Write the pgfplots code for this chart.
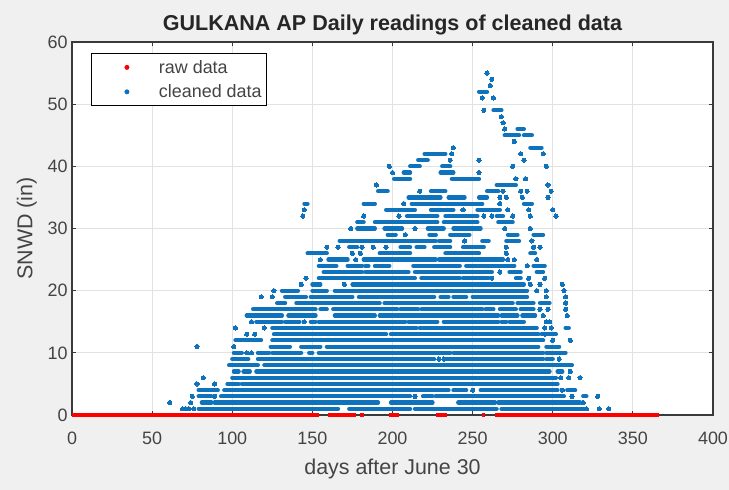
\documentclass[border=0pt]{standalone}
\usepackage{pgfplots}
\pgfplotsset{compat=1.18}
\usepackage{fontspec}
\setmainfont{Liberation Sans}
\definecolor{figbg}{HTML}{F0F0F0}
\definecolor{mblue}{HTML}{0F72BD}
\definecolor{frame}{HTML}{3A3A3A}
\definecolor{gridc}{HTML}{E2E2E2}
\definecolor{labc}{HTML}{444444}
\begin{document}
\begin{tikzpicture}[x=1bp,y=1bp]
\useasboundingbox (0,0) rectangle (729,490);
\fill[figbg] (0,0) rectangle (729,490);
\begin{axis}[
  at={(72bp,75bp)},anchor=south west,
  scale only axis,width=641bp,height=373bp,
  xmin=0,xmax=400,ymin=0,ymax=60,
  xtick={0,50,...,400},ytick={0,10,...,60},
  axis background/.style={fill=white},
  grid=major,
  major grid style={gridc,line width=0.9bp},
  axis line style={frame,line width=1.1bp},
  tick style={frame,line width=0.9bp},
  tick align=inside,major tick length=4bp,
  clip=false,
  unbounded coords=jump,
  /pgf/number format/assume math mode=true,
  tick label style={font=\fontsize{18}{20}\selectfont,text=labc},
  xticklabel style={yshift=-13bp},
  yticklabel style={xshift=-1bp},
  title={\bfseries GULKANA AP Daily readings of cleaned data},
  title style={font=\fontsize{21.6}{24}\selectfont,text=black!85,yshift=-3bp},
  xlabel={days after June 30},
  ylabel={SNWD (in)},
  label style={font=\fontsize{21.5}{24}\selectfont,text=labc},
  xlabel style={yshift=-8bp},
  ylabel style={yshift=4bp},
  legend cell align=left,
  legend style={at={(0.0304,0.97)},anchor=north west,draw=black,line width=0.9bp,fill=white,
    font=\fontsize{18}{20}\selectfont,text=labc,inner xsep=3bp,inner ysep=4.5bp,row sep=6bp},
]
\addlegendimage{legend image code/.code={\path[draw=none] (0,0) -- (62bp,0); \fill[red] (32bp,0) circle (2bp);}}
\addlegendentry{raw data}
\addlegendimage{legend image code/.code={\path[draw=none] (0,0) -- (62bp,0); \fill[mblue] (32bp,0) circle (2bp);}}
\addlegendentry{cleaned data}
% cleaned data: runs of consecutive daily readings, one row per depth
\addplot[forget plot,mblue,line width=4.2bp,line cap=round] coordinates {
(79,1)(166,1)(nan,0)(173,1)(211,1)(nan,0)(214,1)(265,1)(nan,0)(268,1)(320,1)(nan,0)
(81,2)(87,2)(nan,0)(89,2)(191,2)(nan,0)(199,2)(225,2)(nan,0)(241,2)(264,2)(nan,0)(266,2)(317,2)(nan,0)
(79,3)(87,3)(nan,0)(93,3)(211,3)(nan,0)(219,3)(225,3)(nan,0)(227,3)(307,3)(nan,0)(319,3)(321,3)(nan,0)
(79,4)(91,4)(nan,0)(95,4)(235,4)(nan,0)(238,4)(246,4)(nan,0)(255,4)(303,4)(nan,0)(309,4)(314,4)(nan,0)
(97,5)(104,5)(nan,0)(106,5)(303,5)(nan,0)
(100,6)(302,6)(nan,0)
(101,7)(104,7)(nan,0)(107,7)(111,7)(nan,0)(115,7)(298,7)(nan,0)(303,7)(306,7)(nan,0)
(98,8)(116,8)(nan,0)(120,8)(312,8)(nan,0)
(100,9)(110,9)(nan,0)(116,9)(226,9)(nan,0)(233,9)(294,9)(nan,0)(296,9)(300,9)(nan,0)
(101,10)(106,10)(nan,0)(116,10)(123,10)(nan,0)(125,10)(143,10)(nan,0)(148,10)(150,10)(nan,0)(154,10)(236,10)(nan,0)(238,10)(294,10)(nan,0)(296,10)(308,10)(nan,0)
(124,11)(136,11)(nan,0)(143,11)(155,11)(nan,0)(159,11)(291,11)(nan,0)(296,11)(304,11)(nan,0)
(102,12)(118,12)(nan,0)(125,12)(294,12)(nan,0)
(126,13)(196,13)(nan,0)(199,13)(291,13)(nan,0)(293,13)(302,13)(nan,0)
(125,14)(215,14)(nan,0)(217,14)(290,14)(nan,0)(308,14)(310,14)(nan,0)
(115,15)(131,15)(nan,0)(133,15)(142,15)(nan,0)(149,15)(152,15)(nan,0)(154,15)(208,15)(nan,0)(210,15)(228,15)(nan,0)(232,15)(266,15)(nan,0)(268,15)(271,15)(nan,0)(273,15)(282,15)(nan,0)
(109,16)(131,16)(nan,0)(135,16)(152,16)(nan,0)(164,16)(189,16)(nan,0)(192,16)(266,16)(nan,0)(268,16)(278,16)(nan,0)(281,16)(289,16)(nan,0)
(113,17)(152,17)(nan,0)(155,17)(159,17)(nan,0)(163,17)(203,17)(nan,0)(205,17)(216,17)(nan,0)(218,17)(256,17)(nan,0)(258,17)(263,17)(nan,0)(267,17)(277,17)(nan,0)(280,17)(288,17)(nan,0)
(128,18)(133,18)(nan,0)(140,18)(192,18)(nan,0)(195,18)(275,18)(nan,0)(278,18)(288,18)(nan,0)(292,18)(298,18)(nan,0)
(133,19)(146,19)(nan,0)(149,19)(175,19)(nan,0)(179,19)(226,19)(nan,0)(230,19)(235,19)(nan,0)(238,19)(246,19)(nan,0)(250,19)(284,19)(nan,0)
(131,20)(141,20)(nan,0)(150,20)(159,20)(nan,0)(164,20)(284,20)(nan,0)
(150,21)(155,21)(nan,0)(175,21)(282,21)(nan,0)
(154,22)(214,22)(nan,0)(218,22)(242,22)(nan,0)(244,22)(260,22)(nan,0)(277,22)(280,22)(nan,0)
(157,23)(181,23)(nan,0)(183,23)(210,23)(nan,0)(214,23)(262,23)(nan,0)(273,23)(280,23)(nan,0)(290,23)(294,23)(nan,0)
(154,24)(165,24)(nan,0)(172,24)(181,24)(nan,0)(183,24)(185,24)(nan,0)(189,24)(198,24)(nan,0)(213,24)(242,24)(nan,0)(246,24)(276,24)(nan,0)(288,24)(295,24)(nan,0)
(160,25)(172,25)(nan,0)(182,25)(227,25)(nan,0)(229,25)(269,25)(nan,0)
(147,26)(159,26)(nan,0)(192,26)(211,26)(nan,0)(233,26)(254,26)(nan,0)(286,26)(289,26)(nan,0)
(173,27)(178,27)(nan,0)(205,27)(211,27)(nan,0)(215,27)(220,27)(nan,0)(226,27)(236,27)(nan,0)(244,27)(257,27)(nan,0)
(167,28)(227,28)(nan,0)(229,28)(236,28)(nan,0)(256,28)(260,28)(nan,0)(271,28)(279,28)(nan,0)
(197,29)(202,29)(nan,0)(223,29)(227,29)(nan,0)(236,29)(248,29)(nan,0)(272,29)(278,29)(nan,0)(288,29)(294,29)(nan,0)
(178,30)(189,30)(nan,0)(195,30)(206,30)(nan,0)(222,30)(232,30)(nan,0)(238,30)(255,30)(nan,0)
(178,31)(182,31)(nan,0)(189,31)(228,31)(nan,0)(232,31)(253,31)(nan,0)(266,31)(275,31)(nan,0)
(209,32)(228,32)(nan,0)(233,32)(253,32)(nan,0)(265,32)(269,32)(nan,0)
(196,33)(214,33)(nan,0)(224,33)(238,33)(nan,0)(253,33)(267,33)(nan,0)
(145,34)(147,34)(nan,0)(182,34)(189,34)(nan,0)(212,34)(256,34)(nan,0)(282,34)(287,34)(nan,0)
(210,35)(230,35)(nan,0)(235,35)(245,35)(nan,0)(254,35)(259,35)(nan,0)
(191,36)(197,36)(nan,0)(224,36)(233,36)(nan,0)(259,36)(266,36)(nan,0)
(265,37)(277,37)(nan,0)
(201,38)(211,38)(nan,0)(237,38)(254,38)(nan,0)
(207,39)(211,39)(nan,0)(230,39)(238,39)(nan,0)
(211,40)(217,40)(nan,0)(231,40)(236,40)(nan,0)
(216,41)(222,41)(nan,0)
(220,42)(233,42)(nan,0)
(286,43)(293,43)(nan,0)
(270,45)(279,45)(nan,0)(282,45)(287,45)(nan,0)
(278,46)(282,46)(nan,0)
(263,49)(268,49)(nan,0)
(254,52)(259,52)
};
% cleaned data: isolated readings
\addplot[forget plot,mblue,only marks,mark=*,mark size=2.1bp,mark options={fill=mblue,draw=mblue,line width=0pt}] coordinates {
(69,1)(71,1)(73,1)(76,1)(321,1)(329,1)(335,1)
(61,2)(74,2)(319,2)
(75,3)(89,3)(214,3)(312,3)(328,3)
(250,4)(306,4)
(78,5)(89,5)
(82,6)(305,6)(310,6)(317,6)
(311,7)
(229,9)(232,9)(304,9)
(109,10)(112,10)
(78,11)(101,11)
(300,12)(311,12)
(109,13)(114,13)(295,13)
(102,14)(120,14)(295,14)(299,14)
(112,15)(145,15)(296,15)(298,15)
(294,16)(309,16)
(292,17)(297,17)(308,17)
(308,18)
(118,19)(125,19)(296,19)(308,19)
(126,20)(290,20)(296,20)(307,20)
(143,21)(170,21)(286,21)(292,21)(306,21)
(146,22)(262,22)(285,22)(295,22)
(267,23)
(284,24)
(155,25)(177,25)(272,25)(276,25)(290,25)
(175,26)(180,26)(271,26)
(159,27)(166,27)(181,27)(188,27)(196,27)(271,27)(288,27)(292,27)
(245,28)(287,28)
(208,29)
(174,30)(214,30)(270,30)(286,30)
(144,32)(182,32)(204,32)(257,32)(262,32)(275,32)(286,32)(302,32)
(145,33)(244,33)(272,33)(285,33)(300,33)
(207,34)(267,34)
(267,35)(271,35)(281,35)(297,35)
(217,36)(269,36)(280,36)(284,36)(299,36)
(190,37)(297,37)
(277,38)(283,38)
(200,39)(254,39)
(198,40)(275,40)(296,40)
(236,41)(254,41)(282,41)
(237,42)(280,42)(294,42)
(238,43)
(276,44)
(270,46)
(269,47)
(268,48)
(257,49)
(256,51)(263,51)
(261,53)
(262,54)
(259,55)
};
% raw data: days with a reading of zero
\addplot[forget plot,red,line width=4bp] coordinates {
(0,0)(154,0)(nan,0)(160,0)(177,0)(nan,0)(180,0)(182,0)(nan,0)(198,0)(204,0)(nan,0)(227,0)(234,0)(nan,0)(256,0)(258,0)(nan,0)(264,0)(366,0)
};
\end{axis}
\end{tikzpicture}
\end{document}
